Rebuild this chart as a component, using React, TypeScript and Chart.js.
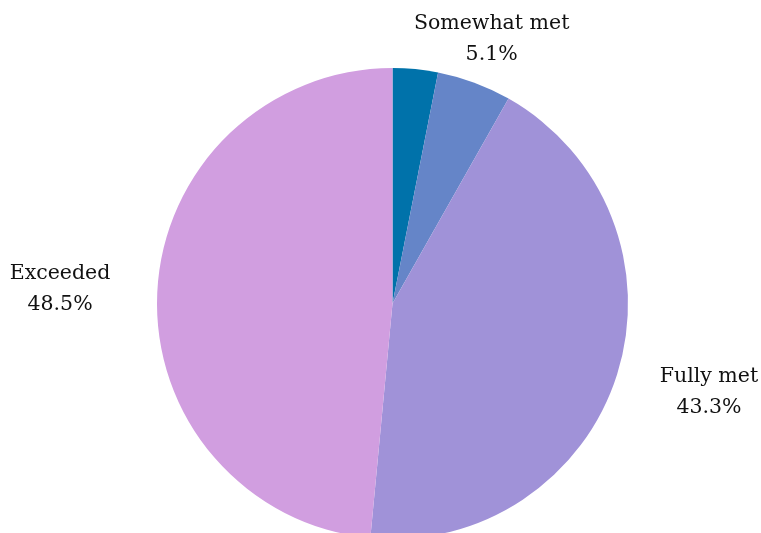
import React, { useEffect, useRef } from "react";
import { Chart, registerables } from "chart.js";

Chart.register(...registerables);

const categories = ["Not met", "Somewhat met", "Fully met", "Exceeded"];
const values = [3.1, 5.1, 43.3, 48.5];
const valueLabels = ["", "5.1%", "43.3%", "48.5%"];
const showLabel = [false, true, true, true];
const colors = ["#0072AA", "#6585C8", "#A092D8", "#D19EE0"];

const FONT = '"DejaVu Serif", serif';
const FONT_SIZE = 20.5;
const LINE_H = 31;

const outsideLabels = {
  id: "outsideLabels",
  afterDatasetsDraw(chart: any) {
    const ctx = chart.ctx;
    const meta = chart.getDatasetMeta(0);
    ctx.save();
    ctx.font = `${FONT_SIZE}px ${FONT}`;
    ctx.fillStyle = "#111111";
    ctx.textAlign = "center";
    ctx.textBaseline = "middle";
    meta.data.forEach((arc: any, i: number) => {
      if (!showLabel[i]) return;
      const { x, y, startAngle, endAngle, outerRadius } = arc.getProps(
        ["x", "y", "startAngle", "endAngle", "outerRadius"],
        true
      );
      const mid = (startAngle + endAngle) / 2;
      const lines = [categories[i], valueLabels[i]];
      const w = Math.max(...lines.map((l) => ctx.measureText(l).width));
      const halfW = w / 2;
      const halfH = LINE_H * 0.4;
      const c = Math.cos(mid);
      const s = Math.sin(mid);
      const p = 47;
      let cx = x + (outerRadius + p) * c + halfW * c;
      let cy = y + (outerRadius + p) * s + halfH * s;
      const minCy = 8 + LINE_H;
      if (cy < minCy) {
        // pull the label back along its ray to keep it inside the canvas
        const need = (y - minCy) / -s - halfH;
        cx = x + need * c + halfW * c * 0.2;
        cy = minCy;
      }
      lines.forEach((l, k) => {
        ctx.fillText(l, cx, cy - LINE_H / 2 + k * LINE_H);
      });
    });
    ctx.restore();
  },
};

export default function App() {
  const ref = useRef<HTMLCanvasElement | null>(null);
  useEffect(() => {
    document.body.style.margin = "0";
    if (!ref.current) return;
    const chart = new Chart(ref.current, {
      type: "pie",
      data: {
        labels: categories,
        datasets: [
          {
            data: values,
            backgroundColor: colors,
            borderWidth: 0,
          },
        ],
      },
      options: {
        responsive: false,
        animation: false,
        layout: { padding: { top: 68, bottom: 68, left: 157, right: 133 } },
        plugins: {
          legend: { display: false },
          tooltip: { enabled: false },
        },
      },
      plugins: [outsideLabels],
    });
    return () => chart.destroy();
  }, []);
  return (
    <div style={{ position: "fixed", left: 0, top: 0, width: 761, height: 607, background: "#fff" }}>
      <canvas ref={ref} width={761} height={607} style={{ width: 761, height: 607 }} />
    </div>
  );
}
